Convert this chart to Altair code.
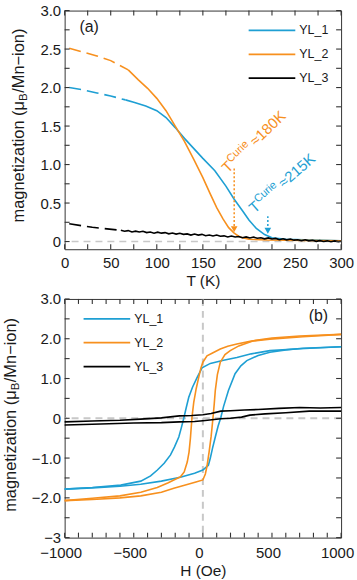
import altair as alt
import pandas as pd

FONT = "Liberation Sans"
TXT = "#1a1a1a"
SERIES = ["YL_1", "YL_2", "YL_3"]
COLORS = ["#1e9fd3", "#f7901e", "#000000"]

# ---------------- panel (a): M(T) ----------------
a_blue_dash_T = [5, 20, 35, 50, 66]
a_blue_dash_M = [2.00, 1.97, 1.93, 1.89, 1.84]
a_blue_T = [66, 75, 88, 100, 110, 120, 130, 140, 150, 163, 175, 184, 193, 200, 208, 217, 225, 240, 270, 300]
a_blue_M = [1.84, 1.81, 1.76, 1.70, 1.61, 1.48, 1.34, 1.21, 1.08, 0.92, 0.72, 0.55, 0.40, 0.28, 0.17, 0.09, 0.05, 0.03, 0.02, 0.01]

a_orange_dash_T = [5, 20, 35, 50, 69]
a_orange_dash_M = [2.51, 2.46, 2.41, 2.35, 2.23]
a_orange_T = [69, 80, 90, 100, 110, 120, 130, 140, 150, 158, 165, 172, 178, 184, 190, 200, 220, 260, 300]
a_orange_M = [2.23, 2.10, 1.99, 1.86, 1.70, 1.50, 1.30, 1.07, 0.83, 0.62, 0.44, 0.29, 0.18, 0.11, 0.06, 0.03, 0.02, 0.015, 0.01]

a_black_dash_T = [5, 30, 61]
a_black_dash_M = [0.23, 0.185, 0.146]
a_black_T = [61, 65, 69, 73, 77, 81, 85, 89, 93, 97, 101, 105, 109, 113, 117, 121, 125, 129, 133, 137,
             141, 145, 149, 153, 157, 161, 165, 169, 173, 177, 181, 185, 189, 193, 197, 201, 205, 209, 213, 217,
             221, 225, 229, 233, 237, 241, 245, 249, 253, 257, 261, 265, 269, 273, 277, 281, 285, 289, 293, 297, 300]
a_black_M = [0.146, 0.133, 0.142, 0.125, 0.135, 0.124, 0.134, 0.116, 0.123, 0.109,
             0.122, 0.109, 0.116, 0.100, 0.110, 0.097, 0.108, 0.093, 0.099, 0.084,
             0.097, 0.084, 0.093, 0.076, 0.085, 0.072, 0.084, 0.068, 0.074, 0.060,
             0.072, 0.059, 0.066, 0.049, 0.060, 0.047, 0.058, 0.043, 0.049, 0.035,
             0.047, 0.034, 0.041, 0.024, 0.035, 0.022, 0.033, 0.018, 0.024, 0.010,
             0.022, 0.009, 0.016, 0.002, 0.012, 0.001, 0.009, -0.002, 0.008, -0.001, 0.004]

# Curie-temperature arrows and labels
arrow_series = ["YL_2", "YL_1"]
arrow_T = [184, 220.5]
arrow_top = [0.95, 0.33]
arrow_head = [0.16, 0.14]
ann_T = [177, 206]
ann_M = [0.88, 0.36]
ann_value = ["≈180K", "≈215K"]
ann_angle = [316, 319]

a_x_ticks = [0, 25, 50, 75, 100, 125, 150, 175, 200, 225, 250, 275, 300]
a_y_ticks = [0, 0.25, 0.5, 0.75, 1.0, 1.25, 1.5, 1.75, 2.0, 2.25, 2.5, 2.75, 3.0]

# ---------------- panel (b): M(H) loops ----------------
b_blue_down_H = [1000, 700, 485, 350, 246, 150, 54, -6, -42, -75, -102, -120, -138, -156, -174, -205, -234, -280, -329, -378, -449, -594, -800, -1000]
b_blue_down_M = [1.80, 1.75, 1.70, 1.62, 1.53, 1.46, 1.38, 1.27, 1.02, 0.78, 0.53, 0.27, 0.00, -0.24, -0.47, -0.72, -0.92, -1.13, -1.30, -1.45, -1.58, -1.68, -1.74, -1.78]
b_blue_up_H = [-1000, -800, -600, -450, -300, -163, -60, 0, 40, 54, 70, 90, 110, 130, 150, 185, 233, 275, 318, 400, 485, 600, 724, 1000]
b_blue_up_M = [-1.78, -1.75, -1.71, -1.66, -1.58, -1.48, -1.38, -1.30, -1.18, -1.00, -0.75, -0.47, -0.20, 0.02, 0.30, 0.70, 1.12, 1.32, 1.45, 1.58, 1.66, 1.72, 1.76, 1.80]

b_orange_down_H = [1000, 724, 485, 350, 246, 180, 126, 70, 30, 0, -15, -30, -48, -66, -78, -90, -100, -113, -135, -162, -210, -250, -330, -449, -600, -800, -1000]
b_orange_down_M = [2.11, 2.05, 1.99, 1.94, 1.87, 1.81, 1.74, 1.64, 1.57, 1.41, 1.25, 1.03, 0.75, 0.40, 0.05, -0.50, -0.85, -1.10, -1.35, -1.47, -1.55, -1.62, -1.74, -1.86, -1.95, -2.01, -2.07]
b_orange_up_H = [-1000, -800, -600, -449, -300, -210, -120, -50, 0, 18, 30, 45, 60, 73, 82, 90, 105, 126, 160, 198, 260, 366, 500, 700, 1000]
b_orange_up_M = [-2.07, -2.04, -2.00, -1.95, -1.86, -1.76, -1.67, -1.60, -1.55, -1.40, -1.20, -0.85, -0.45, 0.00, 0.35, 0.70, 1.10, 1.41, 1.60, 1.70, 1.82, 1.95, 2.02, 2.07, 2.11]

b_black_up_H = [-1000, -800, -600, -450, -300, -170, -80, 0, 60, 130, 200, 300, 400, 550, 700, 850, 1000]
b_black_up_M = [-0.09, -0.07, -0.05, -0.02, 0.01, 0.06, 0.07, 0.09, 0.12, 0.18, 0.19, 0.21, 0.22, 0.25, 0.27, 0.26, 0.27]
b_black_down_H = [1000, 900, 770, 600, 450, 340, 280, 200, 130, 0, -60, -170, -300, -500, -800, -1000]
b_black_down_M = [0.18, 0.18, 0.18, 0.14, 0.11, 0.08, 0.03, 0.00, -0.01, -0.06, -0.08, -0.09, -0.11, -0.12, -0.15, -0.17]

b_x_ticks = [-1000, -900, -800, -700, -600, -500, -400, -300, -200, -100, 0,
             100, 200, 300, 400, 500, 600, 700, 800, 900, 1000]
b_y_ticks = [-3.0, -2.5, -2.0, -1.5, -1.0, -0.5, 0, 0.5, 1.0, 1.5, 2.0, 2.5, 3.0]

Y_TITLE = ["magnetization (μ", "B", " /Mn−ion)"]
PANEL_LABELS = ["(a)", "(b)"]

W, H = 278, 240
TICK = 5


def rows(parts, xname):
    out = []
    for series, branch, xs, ys in parts:
        for i, (x, y) in enumerate(zip(xs, ys)):
            out.append({xname: x, "M": y, "series": series, "branch": branch, "idx": i})
    return pd.DataFrame(out)


cscale = alt.Scale(domain=SERIES, range=COLORS)


def axis(values, orient, label_expr, title=None, label_offset=0, pad=4):
    # label-only axis; the inward ticks are drawn as tick marks below
    return alt.Axis(orient=orient, values=values, labelExpr=label_expr, title=title,
                    ticks=True, tickSize=TICK, offset=-TICK, tickOpacity=0, domain=False, grid=False,
                    labelFont=FONT, labelFontSize=15, labelColor=TXT, labelPadding=pad,
                    labelFlush=False, labelOverlap=False, labelOffset=label_offset,
                    titleFont=FONT, titleFontSize=15.5, titleFontWeight="normal",
                    titleColor=TXT, titlePadding=3)


def inward_ticks(xvals, yvals, xs, ys):
    tx = alt.Chart(pd.DataFrame({"v": xvals}))
    ty = alt.Chart(pd.DataFrame({"v": yvals}))
    kw = dict(size=TICK, thickness=1.1, color="#333333", opacity=1)
    return [
        tx.mark_tick(orient="vertical", **kw).encode(x=alt.X("v:Q", scale=xs, axis=None), y=alt.value(H - TICK / 2)),
        tx.mark_tick(orient="vertical", **kw).encode(x=alt.X("v:Q", scale=xs, axis=None), y=alt.value(TICK / 2)),
        ty.mark_tick(orient="horizontal", **kw).encode(y=alt.Y("v:Q", scale=ys, axis=None), x=alt.value(TICK / 2)),
        ty.mark_tick(orient="horizontal", **kw).encode(y=alt.Y("v:Q", scale=ys, axis=None), x=alt.value(W - TICK / 2)),
    ]


def legend(x):
    return alt.Legend(orient="none", legendX=x, legendY=8, title=None, symbolType="stroke",
                      symbolSize=2200, symbolStrokeWidth=1.8, labelFont=FONT, labelFontSize=12.5,
                      labelColor=TXT, labelOffset=3, padding=0, rowPadding=0, clipHeight=24)


def y_title(center, xpos):
    # texts rotated by 270 degrees; anchor at the end of the first piece
    anchor = center - 22.6
    d = pd.DataFrame({"t": Y_TITLE})
    base = alt.Chart(d)
    p1 = base.transform_filter(alt.datum.t == Y_TITLE[0]).mark_text(
        angle=270, align="right", baseline="middle", font=FONT, fontSize=16.5, color=TXT
    ).encode(x=alt.value(xpos), y=alt.value(anchor), text="t:N")
    p2 = base.transform_filter(alt.datum.t == Y_TITLE[1]).mark_text(
        angle=270, align="left", baseline="middle", font=FONT, fontSize=11.5, color=TXT, dy=5
    ).encode(x=alt.value(xpos), y=alt.value(anchor), text="t:N")
    p3 = base.transform_filter(alt.datum.t == Y_TITLE[2]).mark_text(
        angle=270, align="left", baseline="middle", font=FONT, fontSize=16.5, color=TXT, dx=8.2
    ).encode(x=alt.value(xpos), y=alt.value(anchor), text="t:N")
    return [p1, p2, p3]


def spacer(xv, yv):
    return alt.Chart(pd.DataFrame({"s": [0]})).mark_rule(strokeOpacity=0, strokeWidth=0.01).encode(
        x=alt.value(xv), x2=alt.value(xv), y=alt.value(yv), y2=alt.value(yv))


# ---------- build panel (a) ----------
ax = alt.Scale(domain=[0, 300], nice=False, zero=False)
ay = alt.Scale(domain=[-0.1, 3.0], nice=False, zero=False)

a_solid = rows([("YL_1", "b1", a_blue_T, a_blue_M), ("YL_2", "o1", a_orange_T, a_orange_M),
                ("YL_3", "k1", a_black_T, a_black_M)], "T")
a_dash = rows([("YL_1", "b0", a_blue_dash_T, a_blue_dash_M), ("YL_2", "o0", a_orange_dash_T, a_orange_dash_M),
               ("YL_3", "k0", a_black_dash_T, a_black_dash_M)], "T")
a_arrows = pd.DataFrame({"series": arrow_series, "T": arrow_T, "top": arrow_top, "head": arrow_head})
a_ann = pd.DataFrame({"series": arrow_series, "T": ann_T, "M": ann_M, "val": ann_value, "ang": ann_angle})

a_xlab = "datum.value % 50 == 0 ? format(datum.value, 'd') : ''"
a_ylab = "datum.value == 0 ? '0' : (datum.value % 0.5 == 0 ? format(datum.value, '.1f') : '')"

stroke_enc = alt.Stroke("series:N", scale=cscale, legend=None)
fill_enc = alt.Fill("series:N", scale=cscale, legend=None)

zeroA = alt.Chart(pd.DataFrame({"y": [0]})).mark_rule(color="#c8c8c8", strokeDash=[7, 5], strokeWidth=1.5).encode(
    y=alt.Y("y:Q", scale=ay, axis=None))
dashA = alt.Chart(a_dash).mark_line(strokeWidth=1.6, strokeDash=[12, 6]).encode(
    x=alt.X("T:Q", scale=ax, axis=None),
    y=alt.Y("M:Q", scale=ay, axis=None),
    stroke=stroke_enc, detail="branch:N", order="idx:Q")
solidA = alt.Chart(a_solid).mark_line(strokeWidth=1.6).encode(
    x=alt.X("T:Q", scale=ax, axis=axis(a_x_ticks, "bottom", a_xlab, "T (K)", pad=6)),
    y=alt.Y("M:Q", scale=ay, axis=axis(a_y_ticks, "left", a_ylab)),
    color=alt.Color("series:N", scale=cscale, legend=legend(184)),
    detail="branch:N", order="idx:Q")
arrowA = alt.Chart(a_arrows).mark_rule(strokeDash=[2, 2], strokeWidth=1.5).encode(
    x=alt.X("T:Q", scale=ax, axis=None), y=alt.Y("top:Q", scale=ay, axis=None), y2="head:Q",
    stroke=stroke_enc)
headA = alt.Chart(a_arrows).mark_point(shape="triangle-down", filled=True, size=45, opacity=1,
                                       strokeWidth=0).encode(
    x=alt.X("T:Q", scale=ax, axis=None), y=alt.Y("head:Q", scale=ay, axis=None), fill=fill_enc)

ann_layers = []
for i in range(len(arrow_series)):
    d = a_ann.iloc[[i]]
    common = dict(x=alt.X("T:Q", scale=ax, axis=None), y=alt.Y("M:Q", scale=ay, axis=None), fill=fill_enc)
    ann_layers.append(alt.Chart(d).mark_text(angle=ann_angle[i], align="left", baseline="alphabetic",
                                             font=FONT, fontSize=15).encode(text=alt.value("T"), **common))
    ann_layers.append(alt.Chart(d).mark_text(angle=ann_angle[i], align="left", baseline="alphabetic",
                                             font=FONT, fontSize=11, dx=9.5, dy=-6).encode(text=alt.value("Curie"), **common))
    ann_layers.append(alt.Chart(d).mark_text(angle=ann_angle[i], align="left", baseline="alphabetic",
                                             font=FONT, fontSize=15, dx=39).encode(text="val:N", **common))

labA = alt.Chart(pd.DataFrame({"t": [PANEL_LABELS[0]], "T": [16], "M": [2.79]})).mark_text(
    align="left", baseline="middle", font=FONT, fontSize=16, color=TXT).encode(
    x=alt.X("T:Q", scale=ax, axis=None), y=alt.Y("M:Q", scale=ay, axis=None), text="t:N")

panelA = alt.layer(zeroA, dashA, solidA, arrowA, headA, *ann_layers, labA,
                   *inward_ticks(a_x_ticks, a_y_ticks, ax, ay),
                   *y_title(113.5, -46), spacer(-64, -8)).resolve_axis(
    x="independent", y="independent").properties(width=W, height=H)

# ---------- build panel (b) ----------
bx = alt.Scale(domain=[-1000, 1000], nice=False, zero=False)
by = alt.Scale(domain=[-3, 3], nice=False, zero=False)

b_loops = rows([("YL_1", "b1", b_blue_down_H, b_blue_down_M), ("YL_1", "b2", b_blue_up_H, b_blue_up_M),
                ("YL_2", "o1", b_orange_down_H, b_orange_down_M), ("YL_2", "o2", b_orange_up_H, b_orange_up_M),
                ("YL_3", "k1", b_black_up_H, b_black_up_M), ("YL_3", "k2", b_black_down_H, b_black_down_M)], "H")

b_xlab = "datum.value % 500 == 0 ? format(datum.value, 'd') : ''"
b_ylab = ("datum.value == 0 ? '0' : (datum.value == -3 ? '\u22123' : "
          "(datum.value % 1 == 0 ? format(datum.value, '.1f') : ''))")

zeroB = alt.Chart(pd.DataFrame({"y": [0]})).mark_rule(color="#c8c8c8", strokeDash=[7, 5], strokeWidth=2).encode(
    y=alt.Y("y:Q", scale=by, axis=None))
vlineB = alt.Chart(pd.DataFrame({"x": [0]})).mark_rule(color="#c8c8c8", strokeDash=[7, 5], strokeWidth=2).encode(
    x=alt.X("x:Q", scale=bx, axis=None))
loopsB = alt.Chart(b_loops).mark_line(strokeWidth=1.6).encode(
    x=alt.X("H:Q", scale=bx, axis=axis(b_x_ticks, "bottom", b_xlab, "H (Oe)", label_offset=-4, pad=8)),
    y=alt.Y("M:Q", scale=by, axis=axis(b_y_ticks, "left", b_ylab)),
    color=alt.Color("series:N", scale=cscale, legend=legend(18)),
    detail="branch:N", order="idx:Q")
labB = alt.Chart(pd.DataFrame({"t": [PANEL_LABELS[1]], "H": [906], "M": [2.58]})).mark_text(
    align="right", baseline="middle", font=FONT, fontSize=16, color=TXT).encode(
    x=alt.X("H:Q", scale=bx, axis=None), y=alt.Y("M:Q", scale=by, axis=None), text="t:N")

panelB = alt.layer(zeroB, vlineB, loopsB, labB, *inward_ticks(b_x_ticks, b_y_ticks, bx, by),
                   *y_title(114.5, -54), spacer(293, 282)).resolve_axis(
    x="independent", y="independent").properties(width=W, height=H)

chart = alt.vconcat(panelA, panelB, spacing=50, bounds="flush").resolve_scale(
    color="independent").resolve_legend(color="independent").properties(
    padding={"left": 0, "top": 0, "right": 0, "bottom": 0}, background="white"
).configure_view(stroke="#333333", strokeWidth=1)

chart.save("out.html", embed_options={"renderer": "svg", "actions": False})
